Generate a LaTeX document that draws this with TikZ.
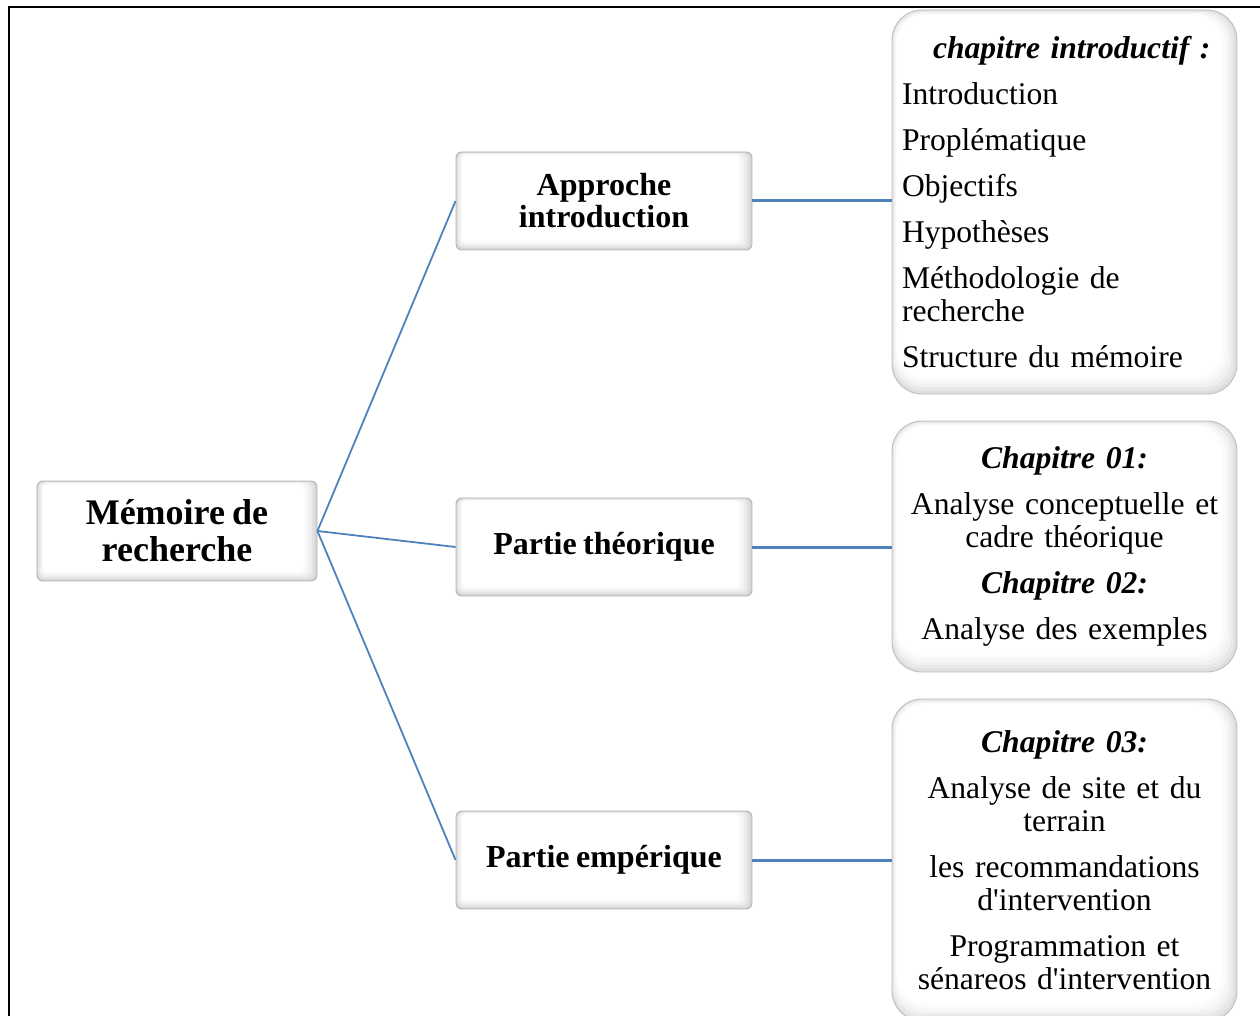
\documentclass[tikz,border=0pt]{standalone}
\usepackage{fontspec}
\newfontfamily\tnr{Liberation Serif}
\newfontfamily\tnrr{Liberation Serif}[WordSpace=0.8]
\definecolor{conn}{RGB}{79,129,189}
\tikzset{
  midbox/.style={minimum width=296pt, minimum height=98pt, rounded corners=6pt,
    draw=gray!60, line width=0.9pt, align=center, inner sep=0pt,
    font=\tnr\bfseries\fontsize{32}{32}\selectfont,
    path picture={
      \foreach \k/\c in {0/32,1/23,2/15,3/9,4/4,5/0}{
        \fill[gray!\c, rounded corners=5pt]
          ([shift={(\k*1.2pt,\k*1.8pt)}]path picture bounding box.south west) rectangle
          ([shift={(-\k*2.6pt,-\k*0.6pt)}]path picture bounding box.north east);
      }}},
  rootbox/.style={midbox, minimum width=280pt, minimum height=100pt,
    font=\tnr\bfseries\fontsize{36}{37}\selectfont},
  rbox/.style={minimum width=345pt, rounded corners=30pt,
    draw=gray!50, line width=0.9pt, inner xsep=10pt, text width=325pt,
    font=\tnrr\fontsize{31.6}{33}\selectfont,
    path picture={
      \foreach \k/\c in {0/26,1/18,2/11,3/6,4/2,5/0}{
        \fill[gray!\c, rounded corners=28pt]
          ([shift={(\k*1pt,\k*3.4pt)}]path picture bounding box.south west) rectangle
          ([shift={(-\k*3pt,-\k*1pt)}]path picture bounding box.north east);
      }}},
  link/.style={conn, line width=1.8pt},
  hlink/.style={conn, line width=3pt},
  frameline/.style={black, line width=2.6pt}
}
\newcommand{\chap}[1]{{\tnr\bfseries\itshape #1}}
\begin{document}
\begin{tikzpicture}[x=1pt, y=-1pt]
\useasboundingbox (0,0) rectangle (1260,1016);
\coordinate (fbl) at (9,1016);
\coordinate (ftl) at (9,7);
\coordinate (ftr) at (1260,7);
\draw[frameline] (fbl) -- (ftl) -- (ftr);

\node[rootbox] (root) at (177,531) {Mémoire de\\recherche};

\node[midbox] (m1) at (604,201) {Approche\\introduction};
\node[midbox] (m2) at (604,547) {Partie théorique};
\node[midbox] (m3) at (604,860) {Partie empérique};

\node[rbox, minimum height=384pt, align=left] (r1) at (1064.5,202)
  {\hspace*{31pt}\chap{chapitre introductif :}\\[13pt]
   Introduction\\[13pt]
   Proplématique\\[13pt]
   Objectifs\\[13pt]
   Hypothèses\\[13pt]
   Méthodologie de\\recherche\\[13pt]
   Structure du mémoire};
\node[rbox, minimum height=251pt, align=center] (r2) at (1064.5,546.5)
  {\chap{Chapitre 01:}\\[13pt]
   Analyse conceptuelle et\\cadre théorique\\[13pt]
   \chap{Chapitre 02:}\\[13pt]
   Analyse des exemples};
\node[rbox, minimum height=322pt, align=center] (r3) at (1064.5,860)
  {\chap{Chapitre 03:}\\[13pt]
   Analyse de site et du\\terrain\\[13pt]
   les recommandations\\d'intervention\\[13pt]
   Programmation et\\sénareos d'intervention};

\draw[link] (root.east) -- (m1.west);
\draw[link] (root.east) -- (m2.west);
\draw[link] (root.east) -- (m3.west);
\draw[hlink] (m1.east) -- (m1.east -| r1.west);
\draw[hlink] (m2.east) -- (m2.east -| r2.west);
\draw[hlink] (m3.east) -- (m3.east -| r3.west);
\end{tikzpicture}
\end{document}
